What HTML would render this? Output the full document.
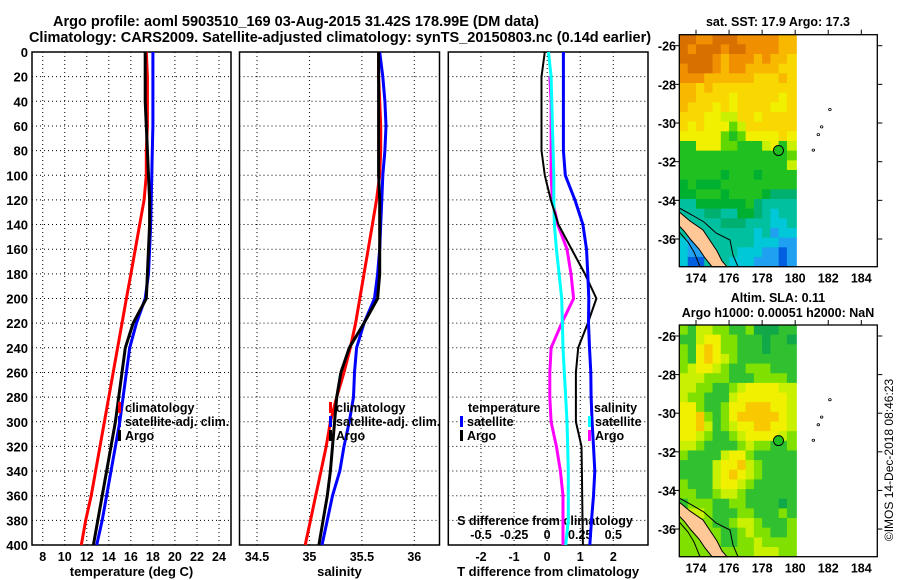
<!DOCTYPE html>
<html><head><meta charset="utf-8"><style>
body{margin:0;background:#fff;}
svg{display:block;font-family:"Liberation Sans",sans-serif;font-weight:bold;}
</style></head><body>
<svg id="c" width="900" height="580" viewBox="0 0 900 580" xmlns="http://www.w3.org/2000/svg">
<text x="296" y="26" font-size="14.5" text-anchor="middle">Argo profile: aoml 5903510_169 03-Aug-2015 31.42S 178.99E (DM data)</text>
<text x="340" y="42" font-size="14.5" text-anchor="middle">Climatology: CARS2009. Satellite-adjusted climatology: synTS_20150803.nc (0.14d earlier)</text>
<text x="778" y="26" font-size="12.5" text-anchor="middle">sat. SST: 17.9 Argo: 17.3</text>
<text x="778" y="302" font-size="12.5" text-anchor="middle">Altim. SLA: 0.11</text>
<text x="778" y="317" font-size="12.5" text-anchor="middle">Argo h1000: 0.00051 h2000: NaN</text>
<text transform="translate(893,460) rotate(-90)" font-size="12" font-weight="normal" text-anchor="middle">©IMOS 14-Dec-2018 08:46:23</text>
</svg>
<script>
const depths=[0,20,40,60,80,100,120,140,160,180,200,220,240,260,280,300,320,340,360,380,400];
const tempClim=[17.4,17.5,17.5,17.5,17.4,17.4,17.2,16.8,16.4,16.0,15.6,15.2,14.8,14.4,14.0,13.6,13.2,12.8,12.4,11.9,11.5];
const tempSat=[18.0,18.0,18.0,18.0,17.95,17.9,17.85,17.8,17.7,17.6,17.3,16.5,15.9,15.6,15.3,15.0,14.6,14.2,13.8,13.4,12.9];
const tempArgo=[17.3,17.3,17.3,17.4,17.5,17.6,17.7,17.7,17.6,17.5,17.4,16.2,15.5,15.2,14.9,14.6,14.2,13.8,13.4,13.0,12.6];
const salClim=[35.66,35.66,35.67,35.68,35.68,35.67,35.64,35.60,35.56,35.52,35.48,35.44,35.39,35.33,35.26,35.20,35.16,35.11,35.06,35.01,34.96];
const salSat=[35.67,35.70,35.72,35.73,35.72,35.70,35.69,35.68,35.67,35.65,35.62,35.52,35.45,35.43,35.42,35.38,35.33,35.29,35.22,35.17,35.12];
const salArgo=[35.66,35.66,35.66,35.66,35.66,35.66,35.67,35.67,35.67,35.67,35.65,35.52,35.38,35.30,35.26,35.24,35.22,35.20,35.17,35.13,35.09];
const tDiffSat=[0.49,0.49,0.49,0.49,0.49,0.55,0.84,1.08,1.19,1.23,1.26,1.25,1.28,1.32,1.33,1.36,1.40,1.44,1.40,1.34,1.29];
const tDiffArgo=[-0.07,-0.17,-0.17,-0.17,-0.17,-0.07,0.11,0.34,0.74,1.14,1.49,1.23,0.94,0.87,0.87,0.87,1.04,1.05,1.06,1.07,1.08];
const sDiffSat=[0.01,0.03,0.035,0.04,0.045,0.05,0.05,0.055,0.07,0.09,0.11,0.115,0.12,0.13,0.14,0.15,0.155,0.16,0.16,0.16,0.14];
const sDiffArgo=[null,0.02,0.03,0.03,0.03,0.03,0.04,0.08,0.15,0.18,0.2,0.11,0.03,0.02,0.02,0.03,0.07,0.1,0.12,0.12,0.12];
const depthTicks=[0,20,40,60,80,100,120,140,160,180,200,220,240,260,280,300,320,340,360,380,400];
const tempTicks=[8,10,12,14,16,18,20,22,24];
const salTicks=[34.5,35,35.5,36];
const tDiffTicks=[-2,-1,0,1,2];
const sDiffTicks=[-0.5,-0.25,0,0.25,0.5];
const sDiffTickLabels=["-0.5","-0.25","0","0.25","0.5"];
const lonTicks=[174,176,178,180,182,184];
const latTicks=[-26,-28,-30,-32,-34,-36];
const sstRows=["aabbaaabbbbbcc","abaaabaabbbbcc","aaaabcbbbcbccd","baaabcbbccccdd","bbbccccccdddcd","ccdcdddddddddd","ccddddeddddded","cdddededdddeed","dddeeffddedddd","dedeeegfdddddd","eeeeeghgeeeede","hheeegghhhfehf","hhhhhhhhhhhhhg","hhhhhhhhhhhhhf","hhhhhihhhihhhh","ihiiihhhhhhhhh","iihhhihhhhijjj","kkiiiiiihjkkkk","kkkjjkkiijklkk","kkkkkjjjkkkllk","kkkkkkkkklkmll","lmkkkkkkklllmm","lmmkkkklllmmnm","lnnkkklllmmmnm"];
const slaRows=["ghffgghhgiiihh","hhfeegghhhihhi","ghepegghhhihhh","ghepefghhhhhhh","gfeefghhggghhh","fffggghhhggggh","ffgghhgfeeeeff","fgghhhfeeeeeef","eeghhgeepppeef","eepghgepppppef","eepfhgfeeppeef","eefghhgfeeeefg","ffghhhhgfgghhg","ghhhhfeeghhhhh","hhhhfeepfghhhh","hhhhfepefghhhh","ghhhfeefghhhhh","gghhgffghhhhhh","hggghhgghhhhih","gffghhhgghhhgh","gfgghhgffghhhg","ggggghhgfgghhg","ggggghhggfgggg","gggggggggfffgg"];
const sstPal={a:"#d87000",b:"#f09000",c:"#f8b800",d:"#f8d800",e:"#f0f000",f:"#c8f000",g:"#60d800",h:"#20c020",i:"#00b030",j:"#00b070",k:"#00c0a0",l:"#00c8d8",m:"#20a0f0",n:"#0060e0"};
const slaPal={p:"#f8c800",e:"#f0f000",f:"#c8f000",g:"#80e000",h:"#30c030",i:"#10a848"};

const NS="http://www.w3.org/2000/svg";
const svg=document.getElementById('c');
function mk(tag,attrs,parent){const e=document.createElementNS(NS,tag);for(const k in attrs)e.setAttribute(k,attrs[k]);(parent||svg).appendChild(e);return e;}
const Y0=52,Y1=545;
function yD(d){return Y0+(d/400)*(Y1-Y0);}
function lin(d0,d1,r0,r1){return v=>r0+(v-d0)/(d1-d0)*(r1-r0);}

function panel(name,x0,x1,xs,ticks,labels,xlabel,showDepth){
  const g=mk('g',{});
  
  
  for(const d of depthTicks){
    if(d>0&&d<400){const l=mk('line',{x1:x0,x2:x1,y1:yD(d),y2:yD(d),stroke:'#000','stroke-width':1,'stroke-dasharray':'1,3'},g);
    }
    if(showDepth){const t=mk('text',{x:x0-4,y:yD(d)+5,'font-size':13,'text-anchor':'end'},g);t.textContent=d;
    }
  }
  ticks.forEach((v,i)=>{const x=xs(v);
    const l=mk('line',{x1:x,x2:x,y1:Y0,y2:Y1,stroke:'#000','stroke-width':1,'stroke-dasharray':'1,3'},g);
    
    const t=mk('text',{x:x,y:561,'font-size':12.5,'text-anchor':'middle'},g);t.textContent=labels[i];
    
  });
  const r=mk('rect',{x:x0,y:Y0,width:x1-x0,height:Y1-Y0,fill:'none',stroke:'#000','stroke-width':1.5},g);
  
  const t=mk('text',{x:(x0+x1)/2,y:576,'font-size':13,'text-anchor':'middle'},g);t.textContent=xlabel;
  
  return g;
}
function line(g,vals,xs,color,w,name){
  let pts=[];vals.forEach((v,i)=>{if(v!==null)pts.push(xs(v).toFixed(1)+','+yD(depths[i]).toFixed(1));});
  const p=mk('polyline',{points:pts.join(' '),fill:'none',stroke:color,'stroke-width':w,'stroke-linejoin':'round'},g);
  
}
function legend(g,x,y,color,label,name){
  const m=mk('rect',{x:x,y:y-10,width:3,height:11,fill:color},g);
  
  if(label){const t=mk('text',{x:x+7,y:y,'font-size':12.5},g);t.textContent=label;
  }
}
const xT=lin(8,24,42.7,219);
const g1=panel('temperature-panel',32,231,xT,tempTicks,tempTicks.map(String),'temperature (deg C)',true);
line(g1,tempClim,xT,'#ff0000',3,'temp-climatology-line');
line(g1,tempSat,xT,'#0000ff',3,'temp-satellite-line');
line(g1,tempArgo,xT,'#000',3,'temp-argo-line');
legend(g1,118,412,'#ff0000','climatology','legend-climatology');
legend(g1,118,426,'#0000ff','satellite-adj. clim.','legend-satellite');
legend(g1,118,440,'#000','Argo','legend-argo');
const xS=lin(34.5,36,257,414.3);
const g2=panel('salinity-panel',239.5,439.5,xS,salTicks,["34.5","35","35.5","36"],'salinity',false);
line(g2,salClim,xS,'#ff0000',3,'sal-climatology-line');
line(g2,salSat,xS,'#0000ff',3,'sal-satellite-line');
line(g2,salArgo,xS,'#000',3,'sal-argo-line');
legend(g2,329,412,'#ff0000','climatology','legend-sal-climatology');
legend(g2,329,426,'#0000ff','satellite-adj. clim.','legend-sal-satellite');
legend(g2,329,440,'#000','Argo','legend-sal-argo');
const xTd=lin(-2,2,481,613.3);
const xSd=lin(-0.5,0.5,481,613.3);
const g3=panel('difference-panel',448.3,648,xTd,tDiffTicks,tDiffTicks.map(String),'T difference from climatology',false);
sDiffTicks.forEach((v,i)=>{const t=mk('text',{x:xSd(v),y:539,'font-size':12.5,'text-anchor':'middle'},g3);t.textContent=sDiffTickLabels[i];
  });
{const t=mk('text',{x:545,y:525,'font-size':12.5,'text-anchor':'middle'},g3);t.textContent='S difference from climatology';
}
line(g3,sDiffArgo,xSd,'#ff00ff',3,'sdiff-argo-line');
line(g3,sDiffSat,xSd,'#00ffff',3,'sdiff-satellite-line');
line(g3,tDiffArgo,xTd,'#000',2,'tdiff-argo-line');
line(g3,tDiffSat,xTd,'#0000ff',3,'tdiff-satellite-line');
{const t=mk('text',{x:468,y:412,'font-size':12.5},g3);t.textContent='temperature';}
legend(g3,460,426,'#0000ff','satellite','legend-tdiff-satellite');
legend(g3,460,440,'#000','Argo','legend-tdiff-argo');
{const t=mk('text',{x:594,y:412,'font-size':12.5},g3);t.textContent='salinity';}
legend(g3,588,426,'#00ffff','satellite','legend-sdiff-satellite');
legend(g3,588,440,'#ff00ff','Argo','legend-sdiff-argo');

function map(name,top,bottom,rows,pal){
  const g=mk('g',{});
  
  const L=679.3,R=877.3;
  const xl=lin(174,184,696,861.3);
  const h=bottom-top;
  const yl=lin(-26,-36,top+11*h/232,top+204.3*h/232);
  const latTop=-25.43;
  rows.forEach((row,ri)=>{
    for(let ci=0;ci<row.length;ci++){
      const lo=173+ci*0.5,hi=Math.min(lo+0.5,180.1);
      const la0=latTop-ri*0.5,la1=la0-0.5;
      const yA=yl(la0),yB=Math.min(yl(la1),bottom);
      const c=mk('rect',{x:xl(lo),y:yA,width:xl(ci==row.length-1?180.1:hi)-xl(lo)+0.5,height:yB-yA+0.5,fill:pal[row[ci]]},g);
      
    }
  });
  const sy=h/232;
  const P=(pts)=>pts.map(p=>p[0]+','+(top+(p[1]-34.7)*sy).toFixed(1)).join(' ');
  const land=mk('polygon',{points:P([[679.3,212],[690,221],[703,230],[711,242],[717,251],[722,261],[727,266.7],[712,266.7],[705,258],[699,249],[691,240],[684,231],[679.3,226]]),fill:'#ffc896',stroke:'#000','stroke-width':1},g);
  
  const c1=mk('polyline',{points:P([[679.3,208],[692,215],[704,222],[716,233],[730,240],[733,255],[738,266.7]]),fill:'none',stroke:'#000','stroke-width':1},g);
  
  const c2=mk('polyline',{points:P([[679.3,232],[688,242],[694,252],[700,266.7]]),fill:'none',stroke:'#000','stroke-width':1},g);
  
  const w=mk('rect',{x:xl(180.1),y:top,width:R-xl(180.1),height:h,fill:'#fff'},g);
  
  [[182.1,-29.3],[181.6,-30.2],[181.4,-30.6],[181.1,-31.4]].forEach(p=>{
    const e=mk('ellipse',{cx:xl(p[0]),cy:yl(p[1]),rx:1.3,ry:1.1,fill:'none',stroke:'#000','stroke-width':0.8},g);
    });
  const f=mk('circle',{cx:xl(178.99),cy:yl(-31.42),r:5,fill:'#20c020',stroke:'#000','stroke-width':1},g);
  
  const b=mk('rect',{x:L,y:top,width:R-L,height:h,fill:'none',stroke:'#000','stroke-width':1.3},g);
  
  lonTicks.forEach(v=>{const x=xl(v);
    mk('line',{x1:x,x2:x,y1:top,y2:top-5,stroke:'#000','stroke-width':1},g);
    const t=mk('text',{x:x,y:bottom+16,'font-size':12.5,'text-anchor':'middle'},g);t.textContent=v;
    });
  latTicks.forEach(v=>{const y=yl(v);
    mk('line',{x1:L,x2:L-5,y1:y,y2:y,stroke:'#000','stroke-width':1},g);
    mk('line',{x1:R,x2:R+5,y1:y,y2:y,stroke:'#000','stroke-width':1},g);
    const t=mk('text',{x:676,y:y+5,'font-size':12.5,'text-anchor':'end'},g);t.textContent=v;
    });
}
map('sst-map',34.7,266.7,sstRows,sstPal);
map('sla-map',325,556.7,slaRows,slaPal);
</script>
</body></html>
